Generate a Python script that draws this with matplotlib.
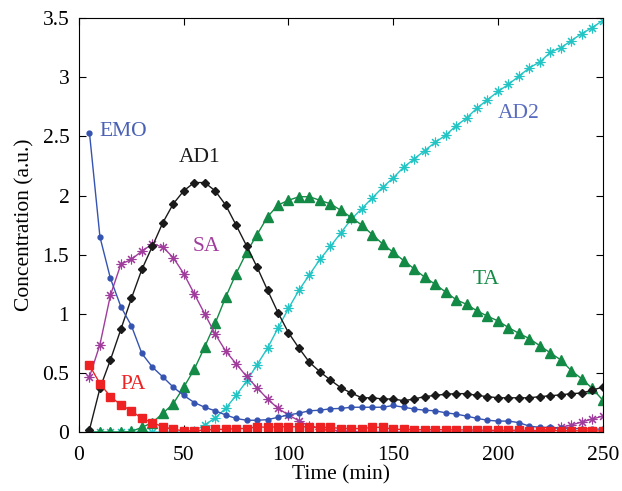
import numpy as np
import matplotlib
matplotlib.use('Agg')
import matplotlib.pyplot as plt

# sampling times (min)
time = np.arange(5, 255, 5)

emo = [2.53, 1.65, 1.30, 1.06, 0.90, 0.665, 0.55, 0.467, 0.38, 0.31,
       0.25, 0.21, 0.18, 0.145, 0.115, 0.10, 0.10, 0.105, 0.125, 0.145,
       0.16, 0.18, 0.185, 0.197, 0.20, 0.21, 0.21, 0.21, 0.21, 0.225,
       0.21, 0.195, 0.185, 0.18, 0.163, 0.152, 0.135, 0.116, 0.10, 0.093,
       0.093, 0.08, 0.05, 0.04, 0.04, 0.035, 0.03, 0.03, 0.025, 0.025]
ad1 = [0.02, 0.37, 0.61, 0.87, 1.13, 1.375, 1.57, 1.77, 1.93, 2.04,
       2.11, 2.11, 2.04, 1.92, 1.75, 1.575, 1.395, 1.20, 1.01, 0.84,
       0.71, 0.59, 0.51, 0.44, 0.375, 0.33, 0.29, 0.29, 0.28, 0.28,
       0.265, 0.28, 0.30, 0.31, 0.32, 0.325, 0.325, 0.31, 0.30, 0.29,
       0.29, 0.29, 0.29, 0.30, 0.307, 0.315, 0.325, 0.33, 0.355, 0.38]
sa = [0.467, 0.74, 1.157, 1.42, 1.46, 1.53, 1.59, 1.565, 1.475, 1.34,
      1.17, 1.00, 0.83, 0.685, 0.578, 0.47, 0.375, 0.28, 0.20, 0.145,
      0.095, 0.05, 0.03, 0.017, 0.01, 0.005, 0.0, 0.0, 0.0, 0.0,
      0.0, 0.0, 0.0, 0.0, 0.0, 0.0, 0.0, 0.0, 0.0, 0.0,
      0.0, 0.0, 0.005, 0.01, 0.025, 0.04, 0.06, 0.085, 0.11, 0.135]
pa = [0.565, 0.41, 0.30, 0.23, 0.18, 0.115, 0.08, 0.045, 0.023, 0.011,
      0.011, 0.017, 0.023, 0.023, 0.03, 0.03, 0.045, 0.04, 0.045, 0.045,
      0.045, 0.045, 0.04, 0.04, 0.03, 0.03, 0.03, 0.04, 0.04, 0.023,
      0.023, 0.02, 0.02, 0.02, 0.02, 0.018, 0.018, 0.017, 0.015, 0.015,
      0.015, 0.015, 0.013, 0.013, 0.012, 0.012, 0.011, 0.011, 0.01, 0.01]
ta = [0.0, 0.0, 0.0, 0.0, 0.005, 0.04, 0.08, 0.158, 0.24, 0.38,
      0.53, 0.72, 0.92, 1.14, 1.34, 1.52, 1.67, 1.82, 1.92, 1.96,
      1.99, 1.99, 1.96, 1.93, 1.875, 1.815, 1.75, 1.67, 1.59, 1.52,
      1.45, 1.38, 1.31, 1.25, 1.185, 1.12, 1.08, 1.025, 0.98, 0.94,
      0.884, 0.835, 0.79, 0.73, 0.67, 0.61, 0.52, 0.45, 0.37, 0.27]
ad2 = [0.0, 0.0, 0.0, 0.0, 0.0, 0.0, 0.0, 0.0, 0.0, 0.0,
       0.01, 0.06, 0.12, 0.20, 0.31, 0.43, 0.57, 0.71, 0.88, 1.045,
       1.20, 1.33, 1.46, 1.57, 1.685, 1.80, 1.89, 1.98, 2.07, 2.15,
       2.24, 2.31, 2.38, 2.45, 2.51, 2.59, 2.655, 2.74, 2.81, 2.88,
       2.94, 3.01, 3.08, 3.13, 3.21, 3.25, 3.31, 3.37, 3.42, 3.48]

plt.rcParams['font.family'] = 'Liberation Serif'
plt.rcParams['font.size'] = 15.5

fig = plt.figure(figsize=(6.22, 4.91), dpi=100)
ax = fig.add_axes([0.127, 0.12, 0.842, 0.843])

star = (8, 2, 0)
ax.plot(time, ad2, color='#22c4c4', lw=1, marker=star, ms=7, mew=0.8)
ax.plot(time, ta, color='#138a45', lw=1, marker='^', ms=6.5)
ax.plot(time, sa, color='#a03c9c', lw=1, marker=star, ms=7, mew=0.8)
ax.plot(time, ad1, color='#1a1a1a', lw=1, marker='D', ms=4)
ax.plot(time, emo, color='#3553b0', lw=1, marker='o', ms=3.5)
ax.plot(time, pa, color='#ee2222', lw=1, marker='s', ms=5.5)

ax.text(21, 2.54, 'EMO', color='#4a60b4', ha='center', va='center')
ax.text(57.5, 2.32, 'AD1', color='#1a1a1a', ha='center', va='center')
ax.text(61, 1.57, 'SA', color='#a03c9c', ha='center', va='center')
ax.text(26, 0.405, 'PA', color='#ee2222', ha='center', va='center')
ax.text(194.5, 1.29, 'TA', color='#138a45', ha='center', va='center')
ax.text(210, 2.69, 'AD2', color='#5a6cc0', ha='center', va='center')

ax.set_xlim(0, 250)
ax.set_ylim(0, 3.5)
ax.set_xticks(np.arange(0, 251, 50))
ax.set_yticks(np.arange(0, 3.51, 0.5))
ax.set_yticklabels(['0', '0.5', '1', '1.5', '2', '2.5', '3', '3.5'])
ax.tick_params(direction='in', top=True, right=True, length=5)
ax.tick_params(axis='x', pad=10)
ax.tick_params(axis='y', pad=7)
ax.set_xlabel('Time (min)', labelpad=0)
ax.set_ylabel('Concentration (a.u.)', labelpad=6)

fig.savefig('out.png', dpi=100)
